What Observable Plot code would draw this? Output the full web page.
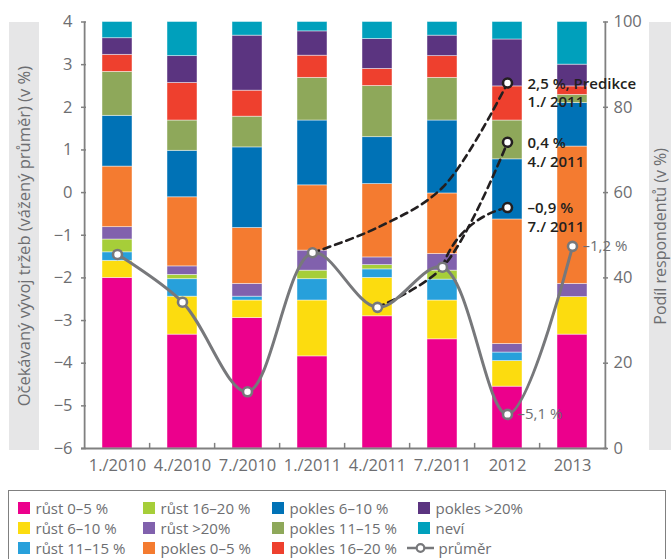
<!DOCTYPE html>
<html><head><meta charset="utf-8">
<script src="https://cdn.jsdelivr.net/npm/d3@7"></script>
<script src="https://cdn.jsdelivr.net/npm/@observablehq/plot@0.6"></script>
<style>
body{margin:0;background:#fff;font-family:"Open Sans",sans-serif;}
#wrap{position:relative;width:671px;height:559px;overflow:hidden;}
#wrap svg{position:absolute;left:0;top:0;}
.ybox{position:absolute;top:22px;height:428px;background:#e6e6e7;display:flex;align-items:center;justify-content:center;overflow:hidden;}
.ybox span{writing-mode:vertical-rl;transform:rotate(180deg);color:#6d6e71;font-size:16.5px;line-height:1;white-space:nowrap;}
#legend{position:absolute;left:8px;top:490px;width:658px;height:90px;border:1.5px solid #808080;box-sizing:border-box;}
.li{position:absolute;display:flex;align-items:center;font-size:15px;color:#6d6e71;height:20px;white-space:nowrap;}
.sw{width:12px;height:12px;margin-right:6px;flex:none;}
</style></head><body>
<div id="wrap"></div>
<script>
// ---- data ----
const categories = ["1./2010","4./2010","7./2010","1./2011","4./2011","7./2011","2012","2013"];
const series = ["růst 0–5 %","růst 6–10 %","růst 11–15 %","růst 16–20 %","růst >20%","pokles 0–5 %","pokles 6–10 %","pokles 11–15 %","pokles 16–20 %","pokles >20%","neví"];
const colors = ["#ec008c","#fcdc0f","#27a0db","#a6ce39","#8161ad","#f47b30","#0072b6","#8ea85a","#ee402e","#5b3480","#00a0bc"];
const rust0_5   = [40, 26.7, 30.6, 21.6, 31, 25.6, 14.5, 26.7];
const rust6_10  = [4, 8.9, 4.1, 13.1, 9, 9.1, 6, 8.8];
const rust11_15 = [2, 4.1, 0.9, 5, 2, 4.9, 2, 0];
const rust16_20 = [3, 1, 0, 2, 1, 2.1, 0, 0];
const rust20    = [2.9, 2, 3, 4.7, 1.8, 3.9, 2, 3.1];
const pokles0_5   = [14.2, 16.2, 13.1, 15.3, 17.2, 14.2, 29.2, 32.2];
const pokles6_10  = [11.9, 10.9, 18.9, 15.2, 11, 17.1, 14.1, 10.2];
const pokles11_15 = [10.3, 7.1, 7.2, 10, 12, 10, 9.1, 1.9];
const pokles16_20 = [4, 8.8, 6.1, 5.2, 4, 5.1, 8, 2];
const pokles20    = [3.9, 6.3, 12.9, 5.7, 7, 4.8, 11, 5.1];
const nevi        = [3.8, 8, 3.2, 2.2, 4, 3.2, 4.1, 10];
const seriesValues = [rust0_5, rust6_10, rust11_15, rust16_20, rust20, pokles0_5, pokles6_10, pokles11_15, pokles16_20, pokles20, nevi];

const average = [-1.45, -2.57, -4.67, -1.41, -2.69, -1.75, -5.2, -1.26];
const avgLabelCats = ["2012", "2013"];
const avgLabels = ["–5,1 %", "–1,2 %"];

const pred1Cats = ["1./2011","4./2011","7./2011","2012"];
const pred1Vals = [-1.41, -0.82, 0.12, 2.57];
const pred2Cats = ["4./2011","7./2011","2012"];
const pred2Vals = [-2.69, -1.75, 1.18];
const pred3Cats = ["7./2011","2012"];
const pred3Vals = [-1.75, -0.35];
const predLabels = ["2,5 %, Predikce\n1./ 2011", "0,4 %\n4./ 2011", "–0,9 %\n7./ 2011"];

const leftTicks = [-6,-5,-4,-3,-2,-1,0,1,2,3,4];
const rightTicks = [0,20,40,60,80,100];

// ---- derived tables ----
const toPct = v => (v + 6) * 10;
const table = [];
categories.forEach((c, ci) => series.forEach((s, si) => table.push({cat: c, series: s, value: seriesValues[si][ci]})));
const avgData = categories.map((c, i) => ({cat: c, v: toPct(average[i])}));
const avgLab = avgLabelCats.map((c, i) => ({cat: c, v: toPct(average[categories.indexOf(c)]), label: avgLabels[i]}));
const mk = (cats, vals) => cats.map((c, i) => ({cat: c, v: toPct(vals[i])}));
const p1 = mk(pred1Cats, pred1Vals), p2 = mk(pred2Cats, pred2Vals), p3 = mk(pred3Cats, pred3Vals);
const predEnds = [p1[p1.length-1], p2[p2.length-1], p3[p3.length-1]].map((d, i) => ({...d, label: predLabels[i]}));

const W = 671, H = 490, ML = 81, MR = 64, MT = 21.5, MB = 42;
const step = (W - ML - MR) / categories.length;
const axisCol = "#808080", textCol = "#6d6e71", dark = "#231f20", grayLine = "#77787b";
const fmt = d3.format("d");
const dash = {stroke: dark, strokeWidth: 2.6, strokeDasharray: "7,5", fill: "none"};

const chart = Plot.plot({
  width: W, height: H,
  marginLeft: ML, marginRight: MR, marginTop: MT, marginBottom: MB,
  style: {fontFamily: "Open Sans, sans-serif", fontSize: "16.5px", fontWeight: 500, color: textCol, background: "transparent", overflow: "visible"},
  x: {domain: categories, paddingInner: 0.544, paddingOuter: 0.272, axis: null},
  y: {domain: [0, 100], axis: null},
  color: {domain: series, range: colors},
  marks: [
    Plot.barY(table, {x: "cat", y: "value", fill: "series", stroke: "#ffffff", strokeOpacity: 0.55, strokeWidth: 0.8}),
    Plot.ruleY([0], {stroke: axisCol, strokeWidth: 1.8}),
    Plot.ruleX([categories[0]], {y1: 0, y2: 100, dx: -step/2, stroke: axisCol, strokeWidth: 1.8}),
    Plot.ruleX([categories[categories.length-1]], {y1: 0, y2: 100, dx: step/2, stroke: axisCol, strokeWidth: 1.8}),
    Plot.ruleX(categories.slice(1), {y1: 0, y2: 1.2, dx: -step/2, stroke: axisCol, strokeWidth: 1.5}),
    Plot.axisX({tickSize: 0, tickPadding: 11, label: null, fill: textCol}),
    Plot.axisY(leftTicks.map(toPct), {anchor: "left", tickSize: -5, tickPadding: 14, tickFormat: p => fmt(Math.round(p/10 - 6)), label: null, stroke: axisCol, fill: textCol, strokeWidth: 1.5}),
    Plot.axisY(rightTicks, {anchor: "right", tickSize: -5, tickPadding: 11, label: null, stroke: axisCol, fill: textCol, strokeWidth: 1.5}),
    Plot.line(p1, {x: "cat", y: "v", curve: "catmull-rom", ...dash}),
    Plot.line(p2, {x: "cat", y: "v", curve: "catmull-rom", ...dash}),
    Plot.arrow([{a: p3[0], b: p3[1]}], {x1: d => d.a.cat, y1: d => d.a.v, x2: d => d.b.cat, y2: d => d.b.v, bend: 30, headLength: 0, stroke: dark, strokeWidth: 2.6, strokeDasharray: "7,5"}),
    Plot.line(avgData, {x: "cat", y: "v", curve: "catmull-rom", stroke: grayLine, strokeWidth: 3}),
    Plot.dot(avgData, {x: "cat", y: "v", r: 4.5, fill: "white", stroke: grayLine, strokeWidth: 2.6}),
    Plot.dot(predEnds, {x: "cat", y: "v", r: 4.5, fill: "white", stroke: dark, strokeWidth: 2.6}),
    Plot.text(predEnds, {x: "cat", y: "v", text: "label", dx: 20, dy: 9, textAnchor: "start", lineAnchor: "middle", lineHeight: 1.25, fontSize: 15, fill: dark, fontWeight: 600}),
    Plot.text(avgLab, {x: "cat", y: "v", text: "label", dx: 10, textAnchor: "start", fontSize: 15, fontWeight: 500, fill: textCol})
  ]
});

const wrap = document.getElementById("wrap");
wrap.appendChild(chart);

// axis title boxes
const lb = document.createElement("div");
lb.className = "ybox"; lb.style.left = "9px"; lb.style.width = "30px";
lb.innerHTML = "<span>Očekávaný vývoj tržeb (vážený průměr) (v %)</span>";
wrap.appendChild(lb);
const rb = document.createElement("div");
rb.className = "ybox"; rb.style.left = "649px"; rb.style.width = "22px";
rb.innerHTML = "<span style='font-size:16px'>Podíl respondentů (v %)</span>";
wrap.appendChild(rb);

// legend
const legend = document.createElement("div");
legend.id = "legend";
wrap.appendChild(legend);
const colX = [18, 143, 272, 418];
const rowY = [508, 528, 548];
const items = series.map((s, i) => ({label: s, color: colors[i]}));
items.push({label: "průměr", avg: true});
items.forEach((it, i) => {
  const col = Math.floor(i / 3), row = i % 3;
  const el = document.createElement("div");
  el.className = "li";
  el.style.left = (colX[col] - 9.5 - (it.avg ? 11 : 0)) + "px";
  el.style.top = (rowY[row] - 10 - 491.5) + "px";
  if (it.avg) {
    el.innerHTML = `<svg width="27" height="12" style="margin-right:5px;position:static"><line x1="0" y1="6" x2="27" y2="6" stroke="${grayLine}" stroke-width="2.5"/><circle cx="13.5" cy="6" r="3.8" fill="white" stroke="${grayLine}" stroke-width="2.2"/></svg><span>${it.label}</span>`;
  } else {
    el.innerHTML = `<div class="sw" style="background:${it.color}"></div><span>${it.label}</span>`;
  }
  legend.appendChild(el);
});
</script>
</body></html>
